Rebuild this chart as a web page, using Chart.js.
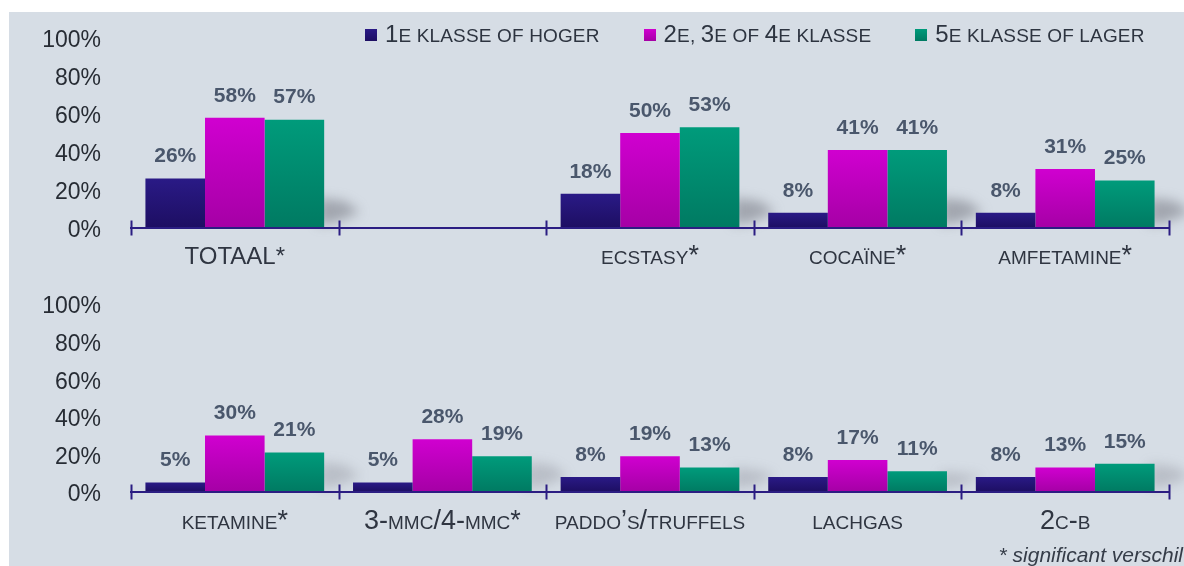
<!DOCTYPE html>
<html>
<head>
<meta charset="utf-8">
<script src="https://cdn.jsdelivr.net/npm/chart.js@4.4.1/dist/chart.umd.min.js"></script>
<style>
  html, body { margin: 0; padding: 0; background: #ffffff; width: 1184px; height: 566px; overflow: hidden; }
  #panel { position: absolute; left: 9px; top: 12px; width: 1175px; height: 554px; background: #d6dde5; }
  .wrap { position: absolute; left: 0; width: 1184px; }
  #topWrap { top: 0; height: 280px; }
  #bottomWrap { top: 280px; height: 286px; }
  canvas { display: block; }
  #legend {
    position: absolute; left: 365px; top: 23px; height: 24px;
    display: flex; align-items: center; gap: 44px;
    font-family: "Liberation Sans", Arial, sans-serif; font-size: 24px;
    color: #2d3440; line-height: 24px; white-space: nowrap; letter-spacing: 0.15px;
  }
  #legend .item { display: flex; align-items: center; }
  #legend .box { width: 12px; height: 12px; margin-right: 8px; }
  #legend .sc { font-size: 19px; text-transform: uppercase; }
</style>
</head>
<body>
<div id="panel"></div>
<div class="wrap" id="topWrap"><canvas id="topChart" width="1184" height="280"></canvas></div>
<div class="wrap" id="bottomWrap"><canvas id="bottomChart" width="1184" height="286"></canvas></div>
<div id="legend"></div>
<script>
// Series (schooltype groups)
const seriesNames = ['1e klasse of hoger', '2e, 3e of 4e klasse', '5e klasse of lager'];

// Upper panel
const topCategories = ['TOTAAL*', '', 'ecstasy*', 'cocaïne*', 'amfetamine*'];
const topKlasse1 = [26, null, 18, 8, 8];
const topKlasse234 = [58, null, 50, 41, 31];
const topKlasse5 = [57, null, 53, 41, 25];

// Lower panel
const bottomCategories = ['ketamine*', '3-mmc/4-mmc*', 'paddo’s/truffels', 'lachgas', '2c-b'];
const bottomKlasse1 = [5, 5, 8, 8, 8];
const bottomKlasse234 = [30, 28, 19, 17, 13];
const bottomKlasse5 = [21, 19, 13, 11, 15];

const yTickValues = [0, 20, 40, 60, 80, 100];
const footnote = '* significant verschil';

// Styling
const FONT = '"Liberation Sans", Arial, sans-serif';
const AXIS_COLOR = '#2b1d82';
const palette = [
  ['#2a1a86', '#1d0e62'],
  ['#d000d0', '#a500a5'],
  ['#009b7b', '#007a62']
];

function barGradient(colors) {
  return (c) => {
    const chart = c.chart;
    const y = chart.scales && chart.scales.y;
    if (!y || c.type !== 'data' || c.raw == null) return colors[0];
    const top = y.getPixelForValue(c.raw);
    const base = y.getPixelForValue(0);
    if (!isFinite(top) || !isFinite(base) || base - top < 1) return colors[0];
    const g = chart.ctx.createLinearGradient(0, top, 0, base);
    g.addColorStop(0, colors[0]);
    g.addColorStop(1, colors[1]);
    return g;
  };
}

function makeDatasets(a, b, c) {
  return [a, b, c].map((values, i) => ({
    label: seriesNames[i],
    data: values,
    backgroundColor: barGradient(palette[i]),
    borderWidth: 0,
    barPercentage: 1,
    categoryPercentage: 0.861
  }));
}

// Percentage labels above every bar
const valueLabels = {
  id: 'valueLabels',
  afterDatasetsDraw(chart) {
    const ctx = chart.ctx;
    ctx.save();
    ctx.font = 'bold 21px ' + FONT;
    ctx.fillStyle = '#4a576c';
    ctx.textAlign = 'center';
    ctx.textBaseline = 'middle';
    chart.data.datasets.forEach((ds, di) => {
      chart.getDatasetMeta(di).data.forEach((bar, i) => {
        const v = ds.data[i];
        if (v == null) return;
        ctx.fillText(v + '%', bar.x, bar.y - 22);
      });
    });
    ctx.restore();
  }
};

// Soft cast shadow to the right of each bar group
const groupShadow = {
  id: 'groupShadow',
  beforeDatasetsDraw(chart, args, opts) {
    const last = chart.data.datasets.length - 1;
    const meta = chart.getDatasetMeta(last);
    const ctx = chart.ctx;
    ctx.save();
    ctx.filter = 'blur(6px)';
    ctx.fillStyle = 'rgba(110,112,122,' + opts.alpha + ')';
    meta.data.forEach((bar, i) => {
      if (chart.data.datasets[last].data[i] == null) return;
      const right = bar.x + bar.width / 2;
      const base = bar.base;
      const h = Math.min(base - bar.y, 30);
      ctx.beginPath();
      ctx.moveTo(right - 6, base - h);
      ctx.lineTo(right + 20, base - h + 3);
      ctx.lineTo(right + 36, base - 16);
      ctx.lineTo(right + 12, base - 6);
      ctx.lineTo(right - 6, base - 3);
      ctx.closePath();
      ctx.fill();
    });
    ctx.restore();
  }
};

// Category separators crossing the baseline
const axisTicks = {
  id: 'axisTicks',
  afterDatasetsDraw(chart) {
    const x = chart.scales.x, y = chart.scales.y;
    const base = y.getPixelForValue(0);
    const n = chart.data.labels.length;
    const step = (x.right - x.left) / n;
    const ctx = chart.ctx;
    ctx.save();
    ctx.strokeStyle = AXIS_COLOR;
    ctx.lineWidth = 2;
    for (let i = 0; i <= n; i++) {
      const px = Math.round(x.left + step * i) + 0.5;
      ctx.beginPath();
      ctx.moveTo(px, base - 7.5);
      ctx.lineTo(px, base + 7.5);
      ctx.stroke();
    }
    ctx.restore();
  }
};

// Footnote in the lower right corner
const footnotePlugin = {
  id: 'footnote',
  afterDraw(chart, args, opts) {
    if (!opts.text) return;
    const ctx = chart.ctx;
    ctx.save();
    ctx.font = 'italic 21px ' + FONT;
    ctx.fillStyle = '#353c48';
    ctx.textAlign = 'right';
    ctx.textBaseline = 'alphabetic';
    ctx.fillText(opts.text, chart.width - 1, chart.height - 4);
    ctx.restore();
  }
};

function makeOptions(cfg) {
  return {
    responsive: false,
    animation: false,
    events: [],
    layout: { padding: { top: cfg.padTop, left: 0, right: 15, bottom: 0 } },
    plugins: {
      legend: { display: false },
      tooltip: { enabled: false },
      groupShadow: { alpha: cfg.shadowAlpha },
      footnote: { text: cfg.footnote || '' }
    },
    scales: {
      x: {
        grid: { display: false, drawTicks: false },
        border: { display: true, color: AXIS_COLOR, width: 2, z: 1 },
        ticks: {
          padding: cfg.labelPad,
          color: '#2f3541',
          maxRotation: 0,
          autoSkip: false,
          font: (c) => (cfg.plainFirst && c.index === 0)
            ? { family: FONT, size: 24, lineHeight: 1.2 }
            : { family: FONT, size: 27, lineHeight: 0.988, weight: 'small-caps' }
        },
        afterFit: (s) => { s.height = cfg.xHeight; }
      },
      y: {
        min: 0,
        max: 100,
        grid: { display: false },
        border: { display: false },
        afterBuildTicks: (s) => { s.ticks = yTickValues.map(v => ({ value: v })); },
        ticks: {
          padding: 22,
          labelOffset: 3,
          color: '#272c34',
          font: { family: FONT, size: 23 },
          callback: (v) => v + '%'
        },
        afterFit: (s) => { s.width = 131; s.paddingTop = 0; s.paddingBottom = 0; }
      }
    }
  };
}

const plugins = [groupShadow, valueLabels, axisTicks, footnotePlugin];

const topChart = new Chart(document.getElementById('topChart'), {
  type: 'bar',
  data: { labels: topCategories, datasets: makeDatasets(topKlasse1, topKlasse234, topKlasse5) },
  options: makeOptions({ padTop: 38, xHeight: 52, labelPad: 15, plainFirst: true, shadowAlpha: 0.5 }),
  plugins
});

const bottomChart = new Chart(document.getElementById('bottomChart'), {
  type: 'bar',
  data: { labels: bottomCategories, datasets: makeDatasets(bottomKlasse1, bottomKlasse234, bottomKlasse5) },
  options: makeOptions({ padTop: 24, xHeight: 74, labelPad: 16, plainFirst: false, shadowAlpha: 0.28, footnote }),
  plugins
});

// Legend built from the upper chart's datasets; digits full size, letters as small capitals
(function buildLegend(chart) {
  const el = document.getElementById('legend');
  chart.data.datasets.forEach((ds, i) => {
    const item = document.createElement('div');
    item.className = 'item';
    const box = document.createElement('span');
    box.className = 'box';
    box.style.background = 'linear-gradient(' + palette[i][0] + ',' + palette[i][1] + ')';
    item.appendChild(box);
    const txt = document.createElement('span');
    ds.label.split(/(\d+)/).forEach((part) => {
      if (!part) return;
      const s = document.createElement('span');
      if (!/^\d+$/.test(part)) s.className = 'sc';
      s.textContent = part;
      txt.appendChild(s);
    });
    item.appendChild(txt);
    el.appendChild(item);
  });
})(topChart);
</script>
</body>
</html>
